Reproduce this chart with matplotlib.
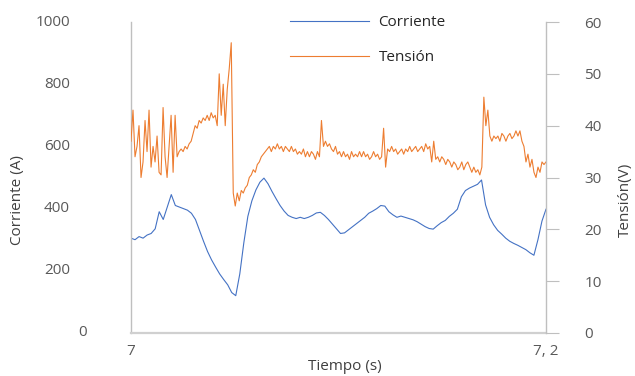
import numpy as np
import matplotlib
matplotlib.use("Agg")
import matplotlib.pyplot as plt

plt.rcParams['font.family'] = ['Open Sans', 'DejaVu Sans']

# time window (s)
t_start, t_end = 7.0, 7.2

# current (A)
corriente = [
    305, 300, 310, 305, 315, 320, 335, 390, 365, 405,
    445, 410, 405, 400, 395, 385, 365, 330, 295, 262,
    235, 212, 190, 172, 155, 130, 120, 190, 290, 375,
    425, 460, 485, 498, 480, 455, 432, 410, 392, 378,
    372, 368, 372, 368, 372, 378, 386, 388, 378, 365,
    350, 335, 320, 322, 332, 342, 352, 362, 372, 385,
    392, 400, 410, 408, 390, 380, 372, 376, 372, 368,
    364, 358, 350, 342, 336, 334, 345, 355, 362, 375,
    385, 398, 438, 458, 466, 472, 478, 492, 412, 372,
    348, 330, 318, 305, 295, 288, 282, 275, 268, 258,
    250, 300, 360, 398,
]

# voltage (V)
tension = [
    37, 43, 34, 36, 40, 30, 33, 41, 35, 43,
    32, 36, 33, 38, 31, 30.5, 43.5, 34, 30, 36,
    42, 31, 42, 34, 35, 35.5, 35, 36, 35.5, 36.5,
    37, 38.5, 40, 39.5, 41, 40.5, 41.5, 41, 42, 41,
    42.5, 41.5, 42, 40, 50, 42, 48, 40, 47, 51,
    56, 27, 24.5, 27, 25.5, 27.5, 27, 28, 28.5, 30,
    30.5, 31.5, 31, 32.5, 33, 34, 34.5, 35, 35.5, 36,
    35, 36, 35.5, 36.5, 35.5, 36, 35, 36, 35.5, 35,
    36, 35, 35.5, 34.5, 35, 34.5, 35.5, 34, 35, 34,
    35, 34.5, 33.5, 35, 34, 41, 36, 37, 36, 36.5,
    35.5, 35, 36, 34.5, 35, 34, 35, 34, 34.5, 33.5,
    35, 34, 34.5, 34, 35, 34, 35, 34, 34.5, 33.5,
    34, 35, 34, 34.5, 33.5, 34, 39.5, 32, 35.5, 35,
    36, 35, 35.5, 34.5, 35, 35.5, 34.5, 35.5, 35, 36,
    35, 35.5, 36, 35, 35.5, 36, 35, 36.5, 35.5, 36,
    33, 37, 33.5, 34, 33, 34, 33.5, 32.5, 33.5, 33,
    32, 33, 32.5, 31.5, 32, 33, 31.5, 32.5, 33, 32,
    31, 32, 31, 31.5, 30.5, 32, 45.5, 40, 43, 38,
    37, 38, 37.5, 38, 37, 38.5, 38, 37, 38, 38.5,
    37.5, 38, 39, 38, 39, 37, 36, 33, 34.5, 32,
    33.5, 31, 30, 32, 31, 33, 32.5, 33,
]

yticks_i = [0, 200, 400, 600, 800, 1000]
yticks_v = [0, 10, 20, 30, 40, 50, 60]
xticks = [7.0, 7.2]
xtick_labels = ['7', '7, 2']

t_i = np.linspace(t_start, t_end, len(corriente))
t_v = np.linspace(t_start, t_end, len(tension))

blue = '#4472C4'
orange = '#ED7D31'
tick_grey = '#595959'
spine_grey = '#BFBFBF'

fig = plt.figure(figsize=(6.35, 3.76), dpi=100)
ax = fig.add_axes([131 / 635, 1 - 333 / 376, 415 / 635, 311 / 376])
ax2 = ax.twinx()

l1, = ax.plot(t_i, corriente, color=blue, lw=0.8, label='Corriente')
l2, = ax2.plot(t_v, tension, color=orange, lw=0.8, label='Tensión')

ax.set_xlim(t_start, t_end)
ax.set_ylim(0, 1000)
ax2.set_ylim(0, 60)

ax.set_xticks(xticks)
ax.set_xticklabels(xtick_labels)
ax.tick_params(axis='x', length=0, pad=8, labelsize=11, labelcolor=tick_grey)

# left axis labels drawn by hand ("0" sits further right in the original)
ax.set_yticks(yticks_i)
ax.set_yticklabels([])
ax.tick_params(axis='y', length=0)
for v in yticks_i:
    xoff = -0.107 if v == 0 else -0.147
    ax.text(xoff, v, str(v), transform=ax.get_yaxis_transform(),
            ha='right', va='center', fontsize=11, color=tick_grey)

ax2.set_yticks(yticks_v)
ax2.tick_params(axis='y', length=9.5, width=0.8, color=spine_grey,
                pad=18, labelsize=11, labelcolor=tick_grey)

for a in (ax, ax2):
    a.spines['top'].set_visible(False)
    for s in ('left', 'right', 'bottom'):
        a.spines[s].set_color(spine_grey)
        a.spines[s].set_linewidth(1.0)
ax.spines['right'].set_visible(False)
ax2.spines['left'].set_visible(False)
ax2.spines['bottom'].set_visible(False)
ax.spines['bottom'].set_linewidth(1.6)
ax.spines['bottom'].set_color('#D0D0D0')

fig.text(345 / 635, 1 - 366 / 376, 'Tiempo (s)', ha='center', va='center',
         fontsize=11, color='#404040')
fig.text(18 / 635, 1 - 200 / 376, 'Corriente (A)', rotation=90,
         ha='center', va='center', fontsize=11, color='#404040')
fig.text(625 / 635, 1 - 200 / 376, 'Tensión(V)', rotation=90,
         ha='center', va='center', fontsize=11, color='#404040')

fig.legend(handles=[l1, l2], loc='upper left',
           bbox_to_anchor=(290 / 635, 1 - 15 / 376),
           frameon=False, fontsize=11, handlelength=5.2,
           handletextpad=0.6, labelspacing=1.3, borderpad=0,
           borderaxespad=0, labelcolor='#262626')

fig.savefig('out.png', dpi=100)
